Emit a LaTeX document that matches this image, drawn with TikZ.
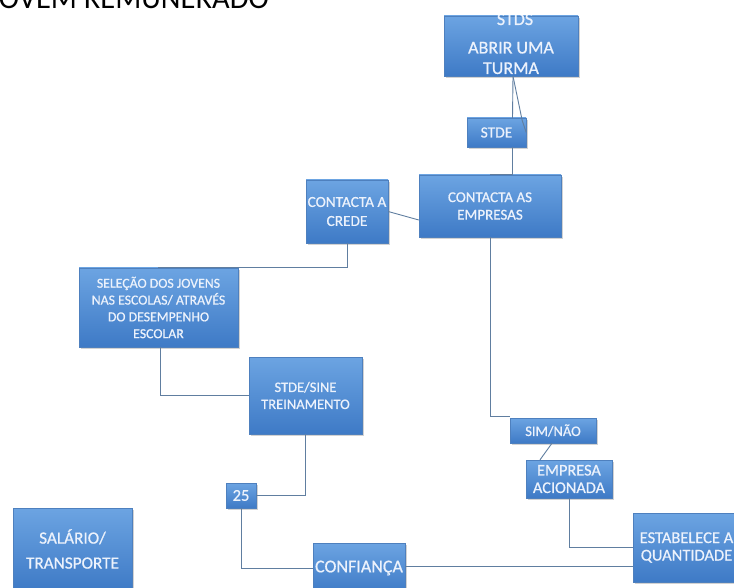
\documentclass[tikz,border=0pt]{standalone}
\usepackage{fontspec}
\setmainfont{Carlito}
\newfontfamily\boxfont{Carlito}[FakeBold=0.7]
\usetikzlibrary{shadows}
\definecolor{boxtop}{RGB}{108,164,226}
\definecolor{boxbot}{RGB}{62,122,198}
\definecolor{boxline}{RGB}{78,128,190}
\definecolor{boxtext}{RGB}{236,242,252}
\definecolor{wire}{RGB}{96,126,160}
\tikzset{
  bluebox/.style={rectangle, inner sep=0pt, top color=boxtop, bottom color=boxbot,
    draw=boxline, line width=0.4pt, text=boxtext, align=center,
    font=\boxfont\fontsize{15}{17.5}\selectfont,
    drop shadow={shadow xshift=1.5pt, shadow yshift=-2pt, opacity=0.35}},
  wireline/.style={draw=wire, line width=0.9pt}
}
\begin{document}
\begin{tikzpicture}[x=1pt,y=-1pt]
\useasboundingbox (0,0) rectangle (734,588);
\fill[white] (0,0) rectangle (734,588);
% title (cut by the top edge)
\node[anchor=base west, inner sep=0pt, font=\fontsize{30.5}{32}\selectfont] (title) at (-11,9) {JOVEM REMUNERADO};

% boxes
\node[bluebox, minimum width=134pt, minimum height=60pt] (stds) at (511,46) {};
\begin{scope}
\clip (stds.north west) rectangle (stds.south east);
\node[text=boxtext, inner sep=0pt, anchor=base, font=\boxfont\fontsize{18}{19}\selectfont] (stdslabel) at (515,25) {STDS};
\end{scope}
\node[text=boxtext, inner sep=0pt, align=center, font=\boxfont\fontsize{18}{20.5}\selectfont] (abrir) at (511,58) {ABRIR UMA\\TURMA};

\node[bluebox, minimum width=59pt, minimum height=29pt, font=\boxfont\fontsize{15.5}{17}\selectfont] (stde) at (496.5,132.5) {STDE};
\node[bluebox, minimum width=142pt, minimum height=62pt] (empresas) at (490,206) {CONTACTA AS\\EMPRESAS};
\node[bluebox, minimum width=82pt, minimum height=63pt, font=\boxfont\fontsize{15.3}{19}\selectfont] (crede) at (347,211.5) {CONTACTA A\\CREDE};
\node[bluebox, minimum width=159pt, minimum height=79pt, font=\boxfont\fontsize{13.8}{16.8}\selectfont] (selecao) at (158.5,307.5) {SELEÇÃO DOS JOVENS\\NAS ESCOLAS/ ATRAVÉS\\DO DESEMPENHO\\ESCOLAR};
\node[bluebox, minimum width=113pt, minimum height=77pt, font=\boxfont\fontsize{14.5}{17}\selectfont] (sine) at (305.5,395.5) {STDE/SINE\\TREINAMENTO};
\node[bluebox, minimum width=30pt, minimum height=25pt, font=\boxfont\fontsize{16.5}{18}\selectfont] (n25) at (241,495.5) {25};
\node[bluebox, minimum width=86pt, minimum height=25pt, font=\boxfont\fontsize{14.5}{17}\selectfont] (simnao) at (553,430.5) {SIM/NÃO};
\node[bluebox, minimum width=86pt, minimum height=38pt, font=\boxfont\fontsize{16.3}{17.5}\selectfont] (acionada) at (569,479) {EMPRESA\\ACIONADA};
\node[bluebox, minimum width=107pt, minimum height=69pt, font=\boxfont\fontsize{16.5}{17.5}\selectfont] (est) at (686.5,547.5) {ESTABELECE A\\QUANTIDADE};
\node[bluebox, minimum width=92pt, minimum height=50pt, font=\boxfont\fontsize{18}{20}\selectfont] (conf) at (359,568) {CONFIANÇA};
\node[bluebox, minimum width=119pt, minimum height=82pt, font=\boxfont\fontsize{17.2}{25}\selectfont] (salario) at (72.5,549) {SALÁRIO/\\TRANSPORTE};

% connectors
\draw[wireline] ([xshift=2pt]stds.south) -- ([xshift=16pt]stde.north);
\draw[wireline] ([xshift=2pt]stds.south) -- ([xshift=-4pt,yshift=12pt]stde.east) -- (stde.east);
\draw[wireline] ([xshift=16pt]stde.south) |- (empresas.north);
\draw[wireline] (crede.east) -- ([yshift=-14pt]empresas.west);
\draw[wireline] (crede.south) -- ++(0,24) -| (selecao.north);
\draw[wireline] ([xshift=1.5pt]selecao.south) |- (sine.west);
\draw[wireline] (sine.south) |- (n25.east);
\draw[wireline] (n25.south) |- (conf.west);
\draw[wireline] ([yshift=2pt]conf.east) -- ([yshift=2pt]conf.east -| est.west);
\draw[wireline] (empresas.south) |- ([yshift=1pt]simnao.north west);
\draw[wireline] ([xshift=-1pt]simnao.south) -- ([xshift=-29pt]acionada.north);
\draw[wireline] (acionada.south) |- (est.west);
\end{tikzpicture}
\end{document}
